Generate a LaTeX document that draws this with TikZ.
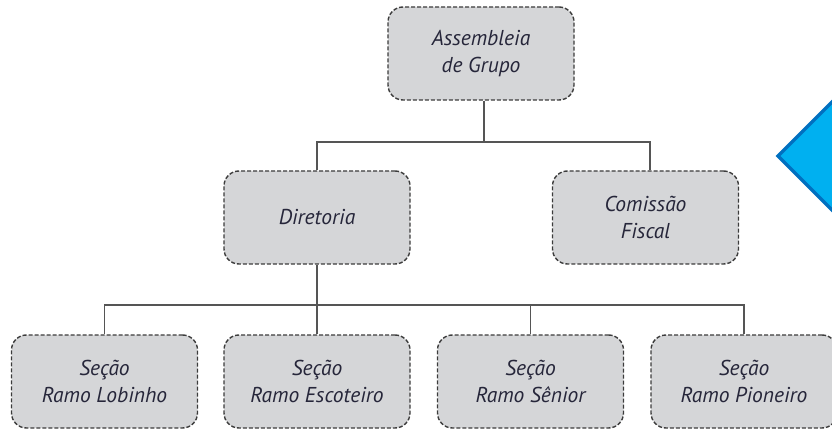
\documentclass[tikz,border=0pt]{standalone}
\usepackage{fontspec}
\setmainfont{PT Sans}
\definecolor{boxfill}{HTML}{D5D6D8}
\definecolor{boxline}{HTML}{3C3C3C}
\definecolor{txt}{HTML}{26263A}
\definecolor{conn}{HTML}{555555}
\definecolor{dfill}{HTML}{00B0F0}
\definecolor{dline}{HTML}{0070C0}
\tikzset{
  orgbox/.style={draw=boxline, fill=boxfill, line width=1.4pt, dash pattern=on 4pt off 2pt,
    rounded corners=15pt, minimum width=186pt, minimum height=93pt, inner sep=0pt,
    align=center, font=\fontsize{21.5}{27}\selectfont\itshape, text=txt},
  link/.style={draw=conn, line width=1.1pt}
}
\begin{document}
\begin{tikzpicture}[x=1pt,y=-1pt]
\useasboundingbox (0,0) rectangle (832,430);
% diamond decoration
\draw[fill=dfill, draw=dline, line width=3.5pt, line join=miter] (778,156) -- (860,74) -- (942,156) -- (860,238) -- cycle;
\node[orgbox] (ag) at (481,53.5) {Assembleia\\de Grupo};
\node[orgbox] (dir) at (317,217.5) {Diretoria};
\node[orgbox] (cf) at (645.5,217.5) {Comissão\\Fiscal};
\node[orgbox] (lob) at (104.5,381.5) {Seção\\Ramo Lobinho};
\node[orgbox] (esc) at (317,381.5) {Seção\\Ramo Escoteiro};
\node[orgbox] (sen) at (530.5,381.5) {Seção\\Ramo Sênior};
\node[orgbox] (pio) at (744,381.5) {Seção\\Ramo Pioneiro};
\coordinate (j1) at (484,142);
\coordinate (j2) at (317,305);
\draw[link] ([xshift=3pt]ag.south) -- (j1);
\draw[link] (dir.north) |- (j1) -| ([xshift=4.5pt]cf.north);
\draw[link] (dir.south) -- (j2);
\draw[link] (lob.north) |- (j2);
\draw[link] (esc.north) -- (j2);
\draw[link] (j2) -| (sen.north);
\draw[link] (j2) -| (pio.north);
\end{tikzpicture}
\end{document}
